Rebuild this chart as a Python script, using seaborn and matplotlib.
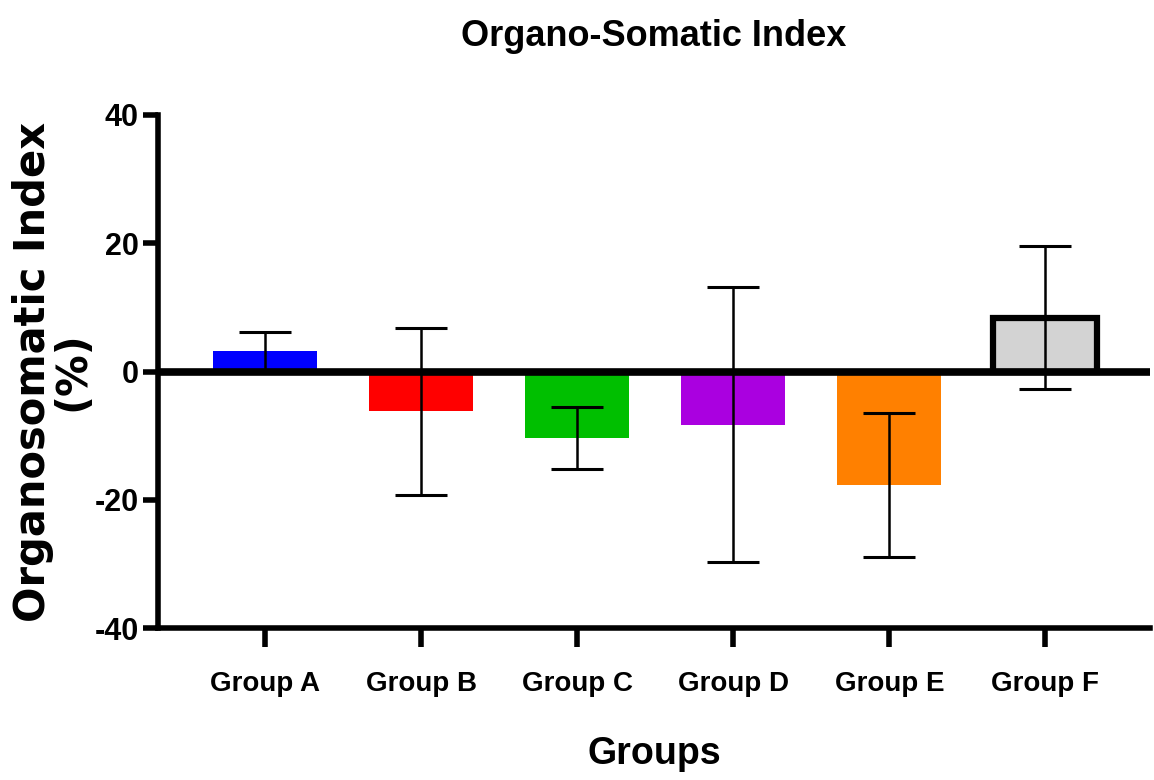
import matplotlib
matplotlib.use("Agg")
import matplotlib.pyplot as plt
import seaborn as sns
import pandas as pd

groups = ["Group A", "Group B", "Group C", "Group D", "Group E", "Group F"]
means = [3.2, -6.2, -10.4, -8.3, -17.7, 8.4]
errors = [3.0, 13.0, 4.8, 21.4, 11.3, 11.2]
colors = ["#0000FF", "#FF0000", "#00BF00", "#AA00E0", "#FF8000", "#D3D3D3"]
yticks = [-40, -20, 0, 20, 40]

sns.set_theme(style="white")
plt.rcParams['font.family'] = ['Liberation Sans', 'DejaVu Sans']
plt.rcParams['text.color'] = 'black'
plt.rcParams['axes.labelcolor'] = 'black'
plt.rcParams['xtick.color'] = 'black'
plt.rcParams['ytick.color'] = 'black'

df = pd.DataFrame({"group": groups, "value": means})

fig = plt.figure(figsize=(11.54, 7.8), dpi=100)
ax = fig.add_axes([158/1154, 1-628/780, (1150-158)/1154, (628-115)/780])

sns.barplot(data=df, x="group", y="value", hue="group", palette=colors,
            width=0.667, errorbar=None, legend=False, ax=ax, saturation=1,
            linewidth=0, zorder=2)

# outline on last bar
last = ax.patches[-1]
last.set_edgecolor("black")
last.set_linewidth(4.5)

xs = [p.get_x() + p.get_width()/2 for p in ax.patches]
ax.errorbar(xs, means, yerr=errors, fmt="none", ecolor="black",
            elinewidth=1.8, capsize=18.5, capthick=2.2, zorder=4)

ax.axhline(0, color="black", linewidth=5.5, zorder=3)

ax.set_ylim(-40, 40)
ax.set_xlim(-0.686, 5.67)
ax.set_yticks(yticks)
ax.set_yticklabels([str(t) for t in yticks])

for s in ["top", "right"]:
    ax.spines[s].set_visible(False)
for s in ["left", "bottom"]:
    ax.spines[s].set_linewidth(4)
    ax.spines[s].set_color("black")

ax.tick_params(axis="y", left=True, direction="out", length=11, width=4,
               color="black", labelcolor="black", labelsize=22, pad=3)
ax.tick_params(axis="x", bottom=True, direction="out", length=14, width=4,
               color="black", labelcolor="black", labelsize=20, pad=17)
for lab in ax.get_yticklabels() + ax.get_xticklabels():
    lab.set_fontweight("bold")

ax.set_xlabel("Groups", fontsize=27, fontweight="bold", labelpad=28, color="black")
ax.set_ylabel("Organosomatic Index\n(%)", fontsize=30, fontweight="bold",
              family="DejaVu Sans", labelpad=1, linespacing=0.9, color="black")
ax.set_title("Organo-Somatic Index", fontsize=26, fontweight="bold", pad=50,
             color="black")

fig.savefig("out.png", dpi=100)
